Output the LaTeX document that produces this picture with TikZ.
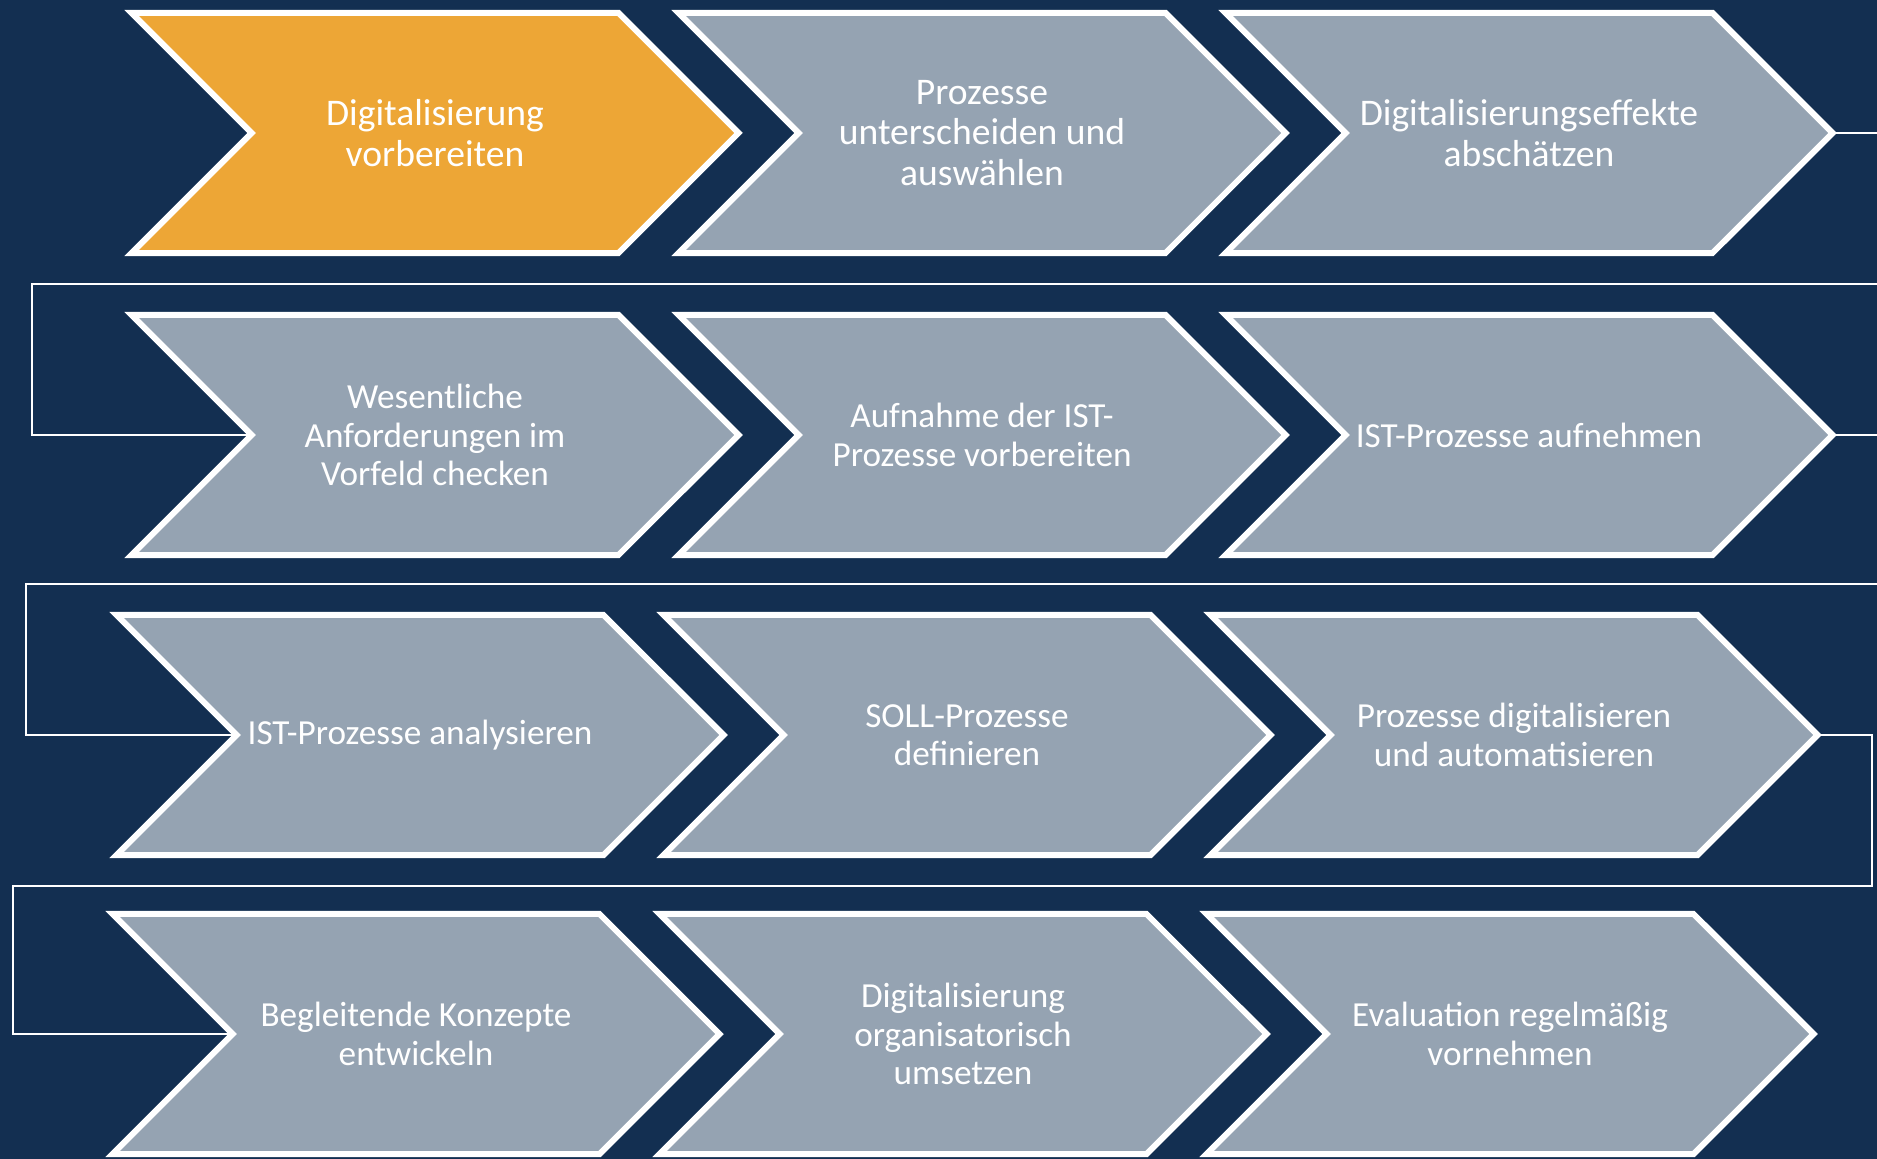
\documentclass[tikz,border=0pt]{standalone}
\usepackage{fontspec}
\setmainfont{Carlito}
\usetikzlibrary{shapes.symbols, positioning}

\definecolor{navy}{RGB}{19,47,81}
\definecolor{sand}{RGB}{237,166,54}
\definecolor{slate}{RGB}{149,163,178}

\begin{document}
\begin{tikzpicture}[
  x=0.5pt, y=-0.5pt,
  stage/.style={shape=signal, signal to=east, signal from=west,
    signal pointer angle=90, draw=white, line width=3pt, fill=slate,
    minimum width=303.5pt, minimum height=120.2pt, inner sep=0pt, outer sep=0pt,
    text=white, align=center, font=\fontsize{17.6}{19.2}\selectfont},
  active/.style={fill=sand},
  big/.style={font=\fontsize{18.8}{20.4}\selectfont},
  link/.style={draw=white, line width=0.8pt},
]
  \useasboundingbox (0,0) rectangle (1877,1159);
  \clip (0,0) rectangle (1877,1159);
  \fill[navy] (0,0) rectangle (1877,1159);

  % row 1
  \node[stage, big, active] (s1) at (435,133) {Digitalisierung\\vorbereiten};
  \node[stage, big, right=30.1pt of s1] (s2) {Prozesse\\unterscheiden und\\auswählen};
  \node[stage, big, right=30.1pt of s2] (s3) {Digitalisierungseffekte\\abschätzen};

  % row 2
  \node[stage] (s4) at (435,435) {Wesentliche\\Anforderungen im\\Vorfeld checken};
  \node[stage, right=30.1pt of s4] (s5) {Aufnahme der IST-\\Prozesse vorbereiten};
  \node[stage, right=30.1pt of s5] (s6) {IST-Prozesse aufnehmen};

  % row 3
  \node[stage] (s7) at (420,735) {IST-Prozesse analysieren};
  \node[stage, right=30.1pt of s7] (s8) {SOLL-Prozesse\\definieren};
  \node[stage, right=30.1pt of s8] (s9) {Prozesse digitalisieren\\und automatisieren};

  % row 4
  \node[stage] (s10) at (416,1034) {Begleitende Konzepte\\entwickeln};
  \node[stage, right=30.1pt of s10] (s11) {Digitalisierung\\organisatorisch\\umsetzen};
  \node[stage, right=30.1pt of s11] (s12) {Evaluation regelmäßig\\vornehmen};

  % wrap-around lines between the rows
  \coordinate (turn1) at (1900,284);
  \coordinate (back1) at (32,284);
  \coordinate (turn2) at (1900,584);
  \coordinate (back2) at (26,584);
  \coordinate (turn3) at (1872,886);
  \coordinate (back3) at (13,886);
  \draw[link] (s3.east) -| (turn1) -- (back1) |- (s4.west);
  \draw[link] (s6.east) -| (turn2) -- (back2) |- (s7.west);
  \draw[link] (s9.east) -| (turn3) -- (back3) |- (s10.west);
\end{tikzpicture}
\end{document}
